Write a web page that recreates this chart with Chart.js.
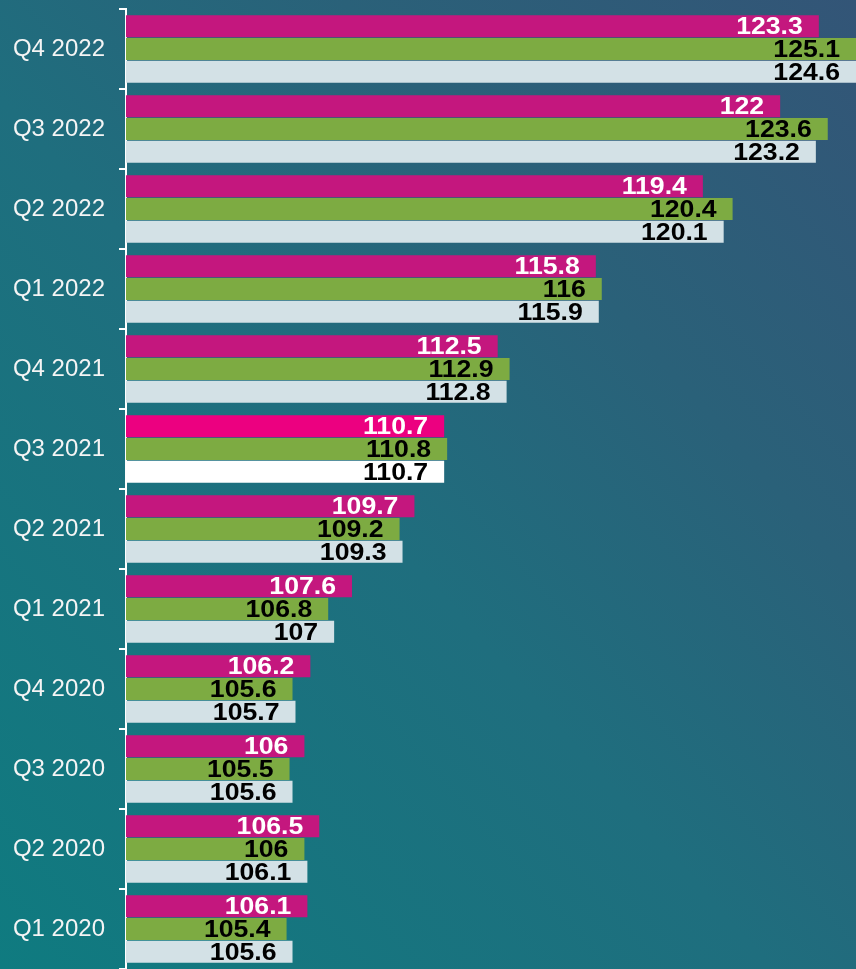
<!DOCTYPE html>
<html>
<head>
<meta charset="utf-8">
<script src="https://cdn.jsdelivr.net/npm/chart.js@4"></script>
<style>
  html, body { margin: 0; padding: 0; }
  body {
    width: 856px; height: 969px; overflow: hidden;
    background: linear-gradient(to top right, #0f7b80 0%, #1f6e7e 45%, #2a6179 70%, #335577 100%);
  }
  canvas { display: block; }
</style>
</head>
<body>
<canvas id="c" width="856" height="969"></canvas>
<script>
const categories = ["Q4 2022","Q3 2022","Q2 2022","Q1 2022","Q4 2021","Q3 2021","Q2 2021","Q1 2021","Q4 2020","Q3 2020","Q2 2020","Q1 2020"];
const seriesA = [123.3, 122, 119.4, 115.8, 112.5, 110.7, 109.7, 107.6, 106.2, 106, 106.5, 106.1];
const seriesB = [125.1, 123.6, 120.4, 116, 112.9, 110.8, 109.2, 106.8, 105.6, 105.5, 106, 105.4];
const seriesC = [124.6, 123.2, 120.1, 115.9, 112.8, 110.7, 109.3, 107, 105.7, 105.6, 106.1, 105.6];
const highlightIndex = 5;

const pink = categories.map((_, i) => i === highlightIndex ? '#ec0080' : '#c4177e');
const green = categories.map(() => '#7dab42');
const light = categories.map((_, i) => i === highlightIndex ? '#ffffff' : '#d3e1e6');

const valueLabels = {
  id: 'valueLabels',
  afterDatasetsDraw(chart) {
    const ctx = chart.ctx;
    const area = chart.chartArea;
    ctx.save();
    ctx.font = 'bold 24px "Liberation Sans", Arial, sans-serif';
    ctx.textAlign = 'right';
    ctx.textBaseline = 'middle';
    chart.data.datasets.forEach((ds, di) => {
      const meta = chart.getDatasetMeta(di);
      ctx.fillStyle = di === 0 ? '#ffffff' : '#000000';
      meta.data.forEach((el, i) => {
        let x = Math.min(el.x, area.right) - 16;
        x = Math.min(x, chart.width - 3);
        ctx.save();
        ctx.translate(x, el.y + 1.5);
        ctx.scale(1.11, 1);
        ctx.fillText(String(ds.data[i]), 0, 0);
        ctx.restore();
      });
    });
    ctx.restore();
  }
};

new Chart(document.getElementById('c'), {
  type: 'bar',
  data: {
    labels: categories,
    datasets: [
      { data: seriesA, backgroundColor: pink },
      { data: seriesB, backgroundColor: green },
      { data: seriesC, backgroundColor: light }
    ]
  },
  options: {
    indexAxis: 'y',
    responsive: false,
    animation: false,
    devicePixelRatio: 1,
    categoryPercentage: 0.855,
    barPercentage: 0.97,
    layout: { padding: { top: 9, bottom: 0, left: 0, right: 0 } },
    plugins: { legend: { display: false }, tooltip: { enabled: false } },
    scales: {
      x: { display: false, min: 100, max: 124.55 },
      y: {
        afterFit(scale) { scale.width = 126; scale.paddingTop = 0; scale.paddingBottom = 0; },
        grid: { display: true, drawOnChartArea: false, drawTicks: true, tickLength: 7, color: '#ffffff', lineWidth: 2, offset: true },
        border: { display: true, color: '#ffffff', width: 2 },
        ticks: { color: '#f4f4f4', padding: 14, font: { size: 24, family: '"Liberation Sans", Arial, sans-serif' } }
      }
    }
  },
  plugins: [valueLabels]
});
</script>
</body>
</html>
